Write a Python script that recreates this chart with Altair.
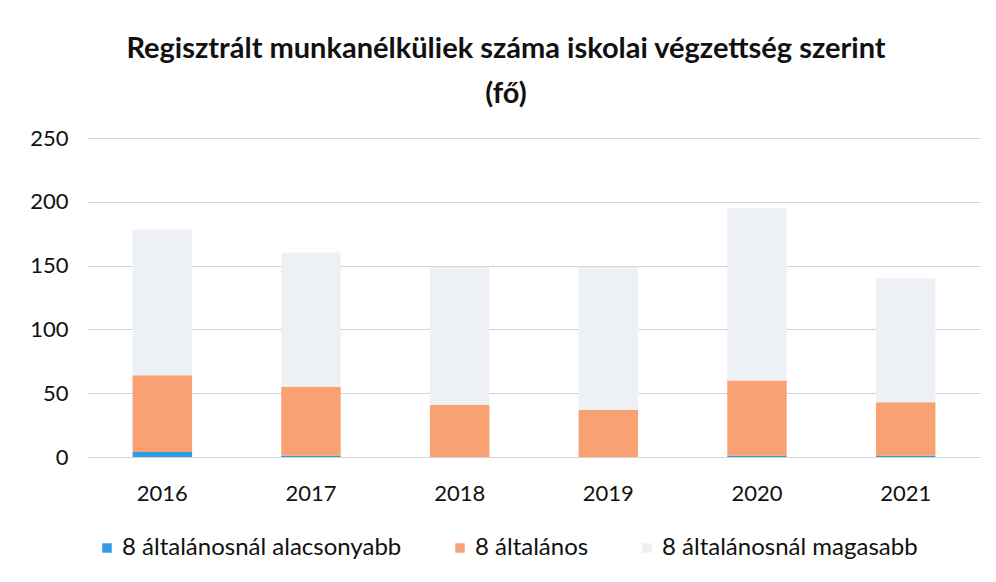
import altair as alt
import pandas as pd

years = ["2016", "2017", "2018", "2019", "2020", "2021"]
series = ["8 általánosnál alacsonyabb", "8 általános", "8 általánosnál magasabb"]
alacsonyabb = [4, 1, 0, 0, 1, 1]
altalanos = [60, 54, 41, 37, 59, 42]
magasabb = [114, 105, 108, 112, 135, 97]
colors = ["#2f9be3", "#f9a172", "#edf0f5"]

rows = []
for i, y in enumerate(years):
    for k, (s, vals) in enumerate(zip(series, [alacsonyabb, altalanos, magasabb])):
        rows.append({"ev": y, "kat": s, "ertek": vals[i], "rend": k})
df = pd.DataFrame(rows)

FONT = "Lato"

chart = alt.Chart(df).mark_bar().encode(
    x=alt.X("ev:N", title=None,
            scale=alt.Scale(paddingInner=0.6, paddingOuter=0.3),
            axis=alt.Axis(labelAngle=0, labelFontSize=22, labelColor="#111111",
                          labelPadding=26, ticks=False, domain=False, grid=False,
                          labelFont=FONT)),
    y=alt.Y("ertek:Q", title=None, stack="zero",
            scale=alt.Scale(domain=[0, 250]),
            axis=alt.Axis(values=[0, 50, 100, 150, 200, 250], labelFontSize=22,
                          labelColor="#111111", labelPadding=20, ticks=False,
                          domain=False, gridColor="#d4d4d4", gridWidth=1,
                          labelFont=FONT)),
    color=alt.Color("kat:N", scale=alt.Scale(domain=series, range=colors),
                    sort=series,
                    legend=alt.Legend(title=None, orient="none", direction="horizontal",
                                      legendX=7, legendY=398, symbolType="square",
                                      symbolSize=90, labelFontSize=24, labelFont=FONT,
                                      labelColor="#111111", columnPadding=46,
                                      labelLimit=0, labelOffset=3,
                                      symbolStrokeWidth=0)),
    order=alt.Order("rend:Q", sort="ascending"),
).properties(
    width=892,
    height=319,
    padding={"left": 80, "top": 130, "right": 8, "bottom": 117},
    autosize=alt.AutoSizeParams(type="none"),
    title=alt.TitleParams(
        text=["Regisztrált munkanélküliek száma iskolai végzettség szerint", "(fő)"],
        fontSize=29, font=FONT, fontWeight="bold", color="#111111",
        anchor="middle", offset=18, lineHeight=45, dx=-28,
    ),
).configure(background="white").configure_view(stroke="transparent", strokeWidth=0)

chart.save("out.html", embed_options={"renderer": "svg", "actions": False})
